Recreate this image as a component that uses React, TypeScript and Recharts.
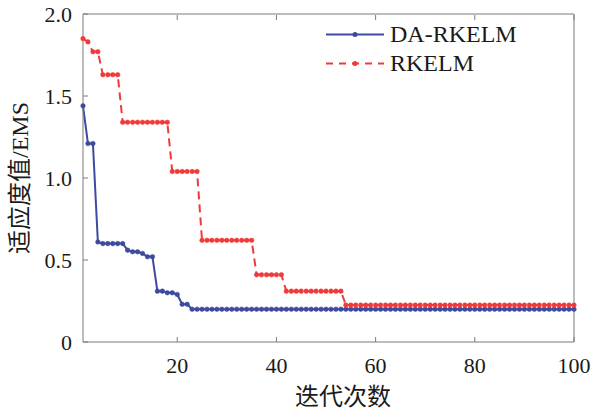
import { LineChart, Line, XAxis, YAxis, Legend } from 'recharts';

const iterations = [
  1, 2, 3, 4, 5, 6, 7, 8, 9, 10,
  11, 12, 13, 14, 15, 16, 17, 18, 19, 20,
  21, 22, 23, 24, 25, 26, 27, 28, 29, 30,
  31, 32, 33, 34, 35, 36, 37, 38, 39, 40,
  41, 42, 43, 44, 45, 46, 47, 48, 49, 50,
  51, 52, 53, 54, 55, 56, 57, 58, 59, 60,
  61, 62, 63, 64, 65, 66, 67, 68, 69, 70,
  71, 72, 73, 74, 75, 76, 77, 78, 79, 80,
  81, 82, 83, 84, 85, 86, 87, 88, 89, 90,
  91, 92, 93, 94, 95, 96, 97, 98, 99, 100,
];

// DA-RKELM
const daRkelm = [
  1.44, 1.21, 1.21, 0.61, 0.6, 0.6, 0.6, 0.6, 0.6, 0.56,
  0.55, 0.55, 0.54, 0.52, 0.52, 0.31, 0.31, 0.3, 0.3, 0.29,
  0.23, 0.23, 0.2, 0.2, 0.2, 0.2, 0.2, 0.2, 0.2, 0.2,
  0.2, 0.2, 0.2, 0.2, 0.2, 0.2, 0.2, 0.2, 0.2, 0.2,
  0.2, 0.2, 0.2, 0.2, 0.2, 0.2, 0.2, 0.2, 0.2, 0.2,
  0.2, 0.2, 0.2, 0.2, 0.2, 0.2, 0.2, 0.2, 0.2, 0.2,
  0.2, 0.2, 0.2, 0.2, 0.2, 0.2, 0.2, 0.2, 0.2, 0.2,
  0.2, 0.2, 0.2, 0.2, 0.2, 0.2, 0.2, 0.2, 0.2, 0.2,
  0.2, 0.2, 0.2, 0.2, 0.2, 0.2, 0.2, 0.2, 0.2, 0.2,
  0.2, 0.2, 0.2, 0.2, 0.2, 0.2, 0.2, 0.2, 0.2, 0.2,
];

// RKELM
const rkelm = [
  1.85, 1.83, 1.77, 1.77, 1.63, 1.63, 1.63, 1.63, 1.34, 1.34,
  1.34, 1.34, 1.34, 1.34, 1.34, 1.34, 1.34, 1.34, 1.04, 1.04,
  1.04, 1.04, 1.04, 1.04, 0.62, 0.62, 0.62, 0.62, 0.62, 0.62,
  0.62, 0.62, 0.62, 0.62, 0.62, 0.41, 0.41, 0.41, 0.41, 0.41,
  0.41, 0.31, 0.31, 0.31, 0.31, 0.31, 0.31, 0.31, 0.31, 0.31,
  0.31, 0.31, 0.31, 0.225, 0.225, 0.225, 0.225, 0.225, 0.225, 0.225,
  0.225, 0.225, 0.225, 0.225, 0.225, 0.225, 0.225, 0.225, 0.225, 0.225,
  0.225, 0.225, 0.225, 0.225, 0.225, 0.225, 0.225, 0.225, 0.225, 0.225,
  0.225, 0.225, 0.225, 0.225, 0.225, 0.225, 0.225, 0.225, 0.225, 0.225,
  0.225, 0.225, 0.225, 0.225, 0.225, 0.225, 0.225, 0.225, 0.225, 0.225,
];

const xTicks = [20, 40, 60, 80, 100];
const yTicks = [0, 0.5, 1, 1.5, 2];

const BLUE = '#3d4a9e';
const RED = '#f03a3a';
const AXIS = '#7a7a7a';
const TEXT = '#1a1a1a';
const FONT = '"Liberation Serif", "Times New Roman", "Noto Sans CJK SC", serif';

const data = iterations.map((it, i) => ({ it, da: daRkelm[i], rk: rkelm[i] }));

const fmtY = (v: number) => (v === 0 ? '0' : v.toFixed(1));

function BottomTick(p: any) {
  return (
    <g>
      <line x1={p.x} y1={p.y} x2={p.x} y2={p.y - 5} stroke={AXIS} />
      <text x={p.x} y={p.y + 31} textAnchor="middle" fontSize={22} fontFamily={FONT} fill={TEXT}>
        {p.payload.value}
      </text>
    </g>
  );
}

// top axis is 1px tall: its line sits at y + 1
function TopTick(p: any) {
  return <line x1={p.x} y1={p.y + 1} x2={p.x} y2={p.y + 6} stroke={AXIS} />;
}

function LeftTick(p: any) {
  return (
    <g>
      <line x1={p.x} y1={p.y} x2={p.x + 5} y2={p.y} stroke={AXIS} />
      <text x={p.x - 11} y={p.y + 7.5} textAnchor="end" fontSize={22} fontFamily={FONT} fill={TEXT}>
        {fmtY(p.payload.value)}
      </text>
    </g>
  );
}

function RightTick(p: any) {
  return <line x1={p.x} y1={p.y} x2={p.x - 5} y2={p.y} stroke={AXIS} />;
}

const legendItems = [
  { label: 'DA-RKELM', color: BLUE, dash: undefined as string | undefined },
  { label: 'RKELM', color: RED, dash: '7 6' },
];

function LegendBox() {
  return (
    <div style={{ fontFamily: FONT, fontSize: 24, color: TEXT }}>
      {legendItems.map(item => (
        <div key={item.label} style={{ display: 'flex', alignItems: 'center', height: 29 }}>
          <svg width={58} height={29} style={{ display: 'block' }}>
            <line x1={0} y1={14.5} x2={58} y2={14.5} stroke={item.color} strokeWidth={2} strokeDasharray={item.dash} />
            <circle cx={29} cy={14.5} r={2.5} fill={item.color} />
          </svg>
          <span style={{ marginLeft: 6, lineHeight: '29px' }}>{item.label}</span>
        </div>
      ))}
    </div>
  );
}

export default function App() {
  return (
    <div style={{ width: 595, height: 412, background: '#fff', position: 'relative' }}>
      <style>{'body{margin:0;}'}</style>
      <LineChart width={595} height={412} data={data} margin={{ top: 13, right: 20, bottom: 0, left: 0 }}>
        <XAxis
          xAxisId="b" dataKey="it" type="number" domain={[1, 100]} ticks={xTicks} interval={0}
          orientation="bottom" height={70} tickSize={0} tickMargin={0} tickLine={false}
          axisLine={{ stroke: AXIS }} tick={<BottomTick />}
        />
        <XAxis
          xAxisId="t" dataKey="it" type="number" domain={[1, 100]} ticks={xTicks} interval={0}
          orientation="top" height={1} tickSize={0} tickMargin={0} tickLine={false}
          axisLine={{ stroke: AXIS }} tick={<TopTick />}
        />
        <YAxis
          yAxisId="l" type="number" domain={[0, 2]} ticks={yTicks} interval={0}
          orientation="left" width={83} tickSize={0} tickMargin={0} tickLine={false}
          axisLine={{ stroke: AXIS }} tick={<LeftTick />}
        />
        <YAxis
          yAxisId="r" type="number" domain={[0, 2]} ticks={yTicks} interval={0}
          orientation="right" width={1} tickSize={0} tickMargin={0} tickLine={false}
          axisLine={{ stroke: AXIS }} tick={<RightTick />}
        />
        <Legend
          layout="vertical" align="center" verticalAlign="middle"
          wrapperStyle={{ left: 326, top: 20, width: 230 }}
          content={() => <LegendBox />}
        />
        <Line
          xAxisId="b" yAxisId="l" type="linear" dataKey="da" name="DA-RKELM"
          stroke={BLUE} strokeWidth={2}
          dot={{ r: 2.3, fill: BLUE, stroke: BLUE, strokeWidth: 0.5 }}
          isAnimationActive={false}
        />
        <Line
          xAxisId="b" yAxisId="l" type="linear" dataKey="rk" name="RKELM"
          stroke={RED} strokeWidth={2} strokeDasharray="8 5"
          dot={{ r: 2.3, fill: RED, stroke: RED, strokeWidth: 0.5, strokeDasharray: '0' }}
          isAnimationActive={false}
        />
      </LineChart>
      <svg width={595} height={412} style={{ position: 'absolute', left: 0, top: 0, pointerEvents: 'none' }}>
        <text
          transform="translate(28,178) rotate(-90)" textAnchor="middle"
          fontSize={24} fontFamily={FONT} fill={TEXT}
        >
          适应度值/EMS
        </text>
        <text x={343} y={405} textAnchor="middle" fontSize={24} fontFamily={FONT} fill={TEXT}>
          迭代次数
        </text>
      </svg>
    </div>
  );
}
